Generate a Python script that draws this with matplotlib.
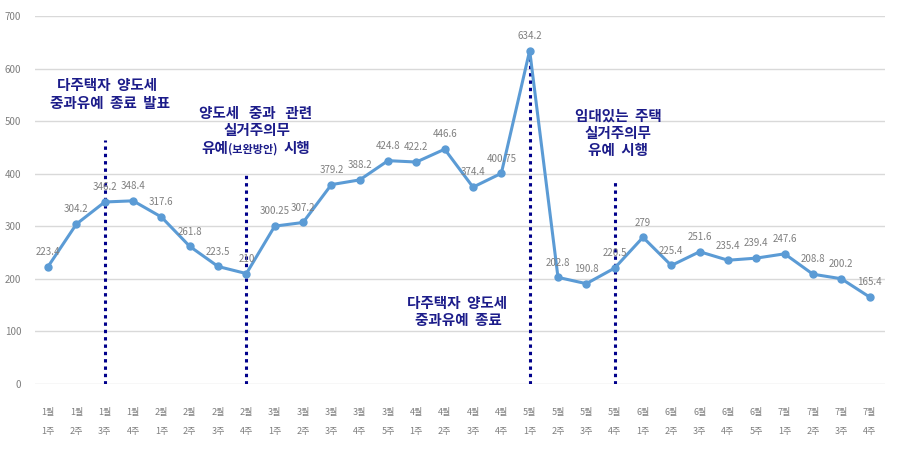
import numpy as np
import matplotlib
matplotlib.use("Agg")
import matplotlib.pyplot as plt  # noqa: E402

plt.rcParams["font.family"] = ["Noto Sans CJK KR", "DejaVu Sans"]

months = ["1월"] * 4 + ["2월"] * 4 + ["3월"] * 5 + ["4월"] * 4 + ["5월"] * 4 + ["6월"] * 5 + ["7월"] * 4
weeks = ["1주", "2주", "3주", "4주",
         "1주", "2주", "3주", "4주",
         "1주", "2주", "3주", "4주", "5주",
         "1주", "2주", "3주", "4주",
         "1주", "2주", "3주", "4주",
         "1주", "2주", "3주", "4주", "5주",
         "1주", "2주", "3주", "4주"]
values = [223.4, 304.2, 346.2, 348.4, 317.6, 261.8, 223.5, 210,
          300.25, 307.2, 379.2, 388.2, 424.8,
          422.2, 446.6, 374.4, 400.75,
          634.2, 202.8, 190.8, 220.5,
          279, 225.4, 251.6, 235.4, 239.4,
          247.6, 208.8, 200.2, 165.4]
labels = ["223.4", "304.2", "346.2", "348.4", "317.6", "261.8", "223.5", "210",
          "300.25", "307.2", "379.2", "388.2", "424.8",
          "422.2", "446.6", "374.4", "400.75",
          "634.2", "202.8", "190.8", "220.5",
          "279", "225.4", "251.6", "235.4", "239.4",
          "247.6", "208.8", "200.2", "165.4"]

# policy events: category index and top of the dotted marker line
event_idx = [2, 7, 17, 20]
event_top = [465, 398, 634, 388]

_NAVY = "#1c1c8a"
_GRAY = "#7f7f7f"

x = np.arange(len(values))

fig = plt.figure(figsize=(8.99, 4.49), dpi=100)
ax = fig.add_axes([0.039, 0.1448, 0.945, 0.8196])

ax.set_ylim(0, 700)
ax.set_xlim(-0.46, len(values) - 1 + 0.53)
ax.set_yticks(range(0, 701, 100))
ax.grid(axis="y", color="#d9d9d9", lw=1)
ax.set_axisbelow(True)
for s in ax.spines.values():
    s.set_visible(False)

ax.vlines(event_idx, 0, event_top, colors="#00008b", lw=2.2,
          linestyles=[(0, (1.1, 1.3))], zorder=2)

ax.plot(x, values, color="#5b9bd5", lw=2.2, marker="o", ms=5, zorder=3)
for xi, v, lab in zip(x, values, labels):
    ax.annotate(lab, (xi, v), xytext=(0, 7), textcoords="offset points",
                ha="center", va="bottom", fontsize=7, color=_GRAY)

ax.set_xticks(x)
ax.set_xticklabels([f"{m}\n{w}" for m, w in zip(months, weeks)], linespacing=2.5)
ax.tick_params(axis="x", length=0, pad=17, labelsize=6.5, labelcolor=_GRAY)
ax.tick_params(axis="y", length=0, pad=10, labelsize=7, labelcolor=_GRAY)

kw = dict(ha="center", va="center", color=_NAVY, fontsize=10.5, fontweight="bold",
          transform=fig.transFigure)
W, H = 899, 449


def ftext(px, py, s, **extra):
    opts = dict(kw)
    opts.update(extra)
    fig.text(px / W, 1 - py / H, s, **opts)


ftext(107, 85, "다주택자  양도세")
ftext(110, 103, "중과유예  종료  발표")

ftext(256, 113, "양도세   중과   관련")
ftext(257, 130, "실거주의무")
ftext(228, 148, "유예", ha="right")
ftext(228, 149, "(보완방안)", ha="left", fontsize=8)
ftext(284, 148, "시행", ha="left")

ftext(457, 303, "다주택자  양도세")
ftext(458, 320, "중과유예  종료")

ftext(618, 116, "임대있는  주택")
ftext(618, 133, "실거주의무")
ftext(618, 150, "유예  시행")

fig.savefig("out.png", dpi=100, facecolor="white")
